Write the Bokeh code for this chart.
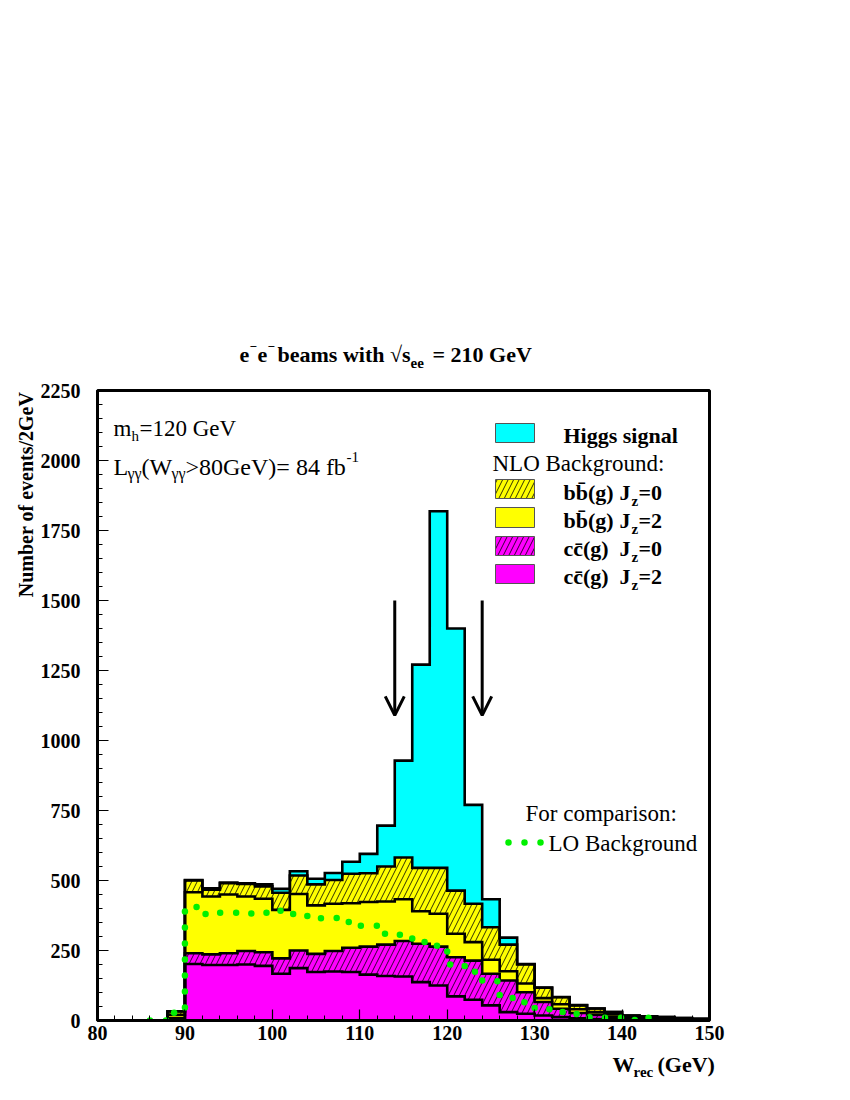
import numpy as np
from bokeh.plotting import figure
from bokeh.layouts import column, row
from bokeh.models import Range1d, SingleIntervalTicker, Label, Arrow, OpenHead
from bokeh.embed import file_html
from bokeh.resources import INLINE

# ---------------- data (events / 2 GeV) ----------------
bin_lo = [88, 90, 92, 94, 96, 98, 100, 102, 104, 106, 108, 110, 112, 114, 116, 118,
          120, 122, 124, 126, 128, 130, 132, 134, 136, 138, 140, 142, 144, 146, 148]
bin_width = 2
cc_jz2 = [4, 202, 198, 198, 200, 195, 167, 187, 173, 175, 173, 164, 159, 157, 137, 125,
          86, 74, 54, 30, 24, 18, 12, 8, 5, 4, 3, 2, 1, 1, 1]
cc_jz0 = [4, 38, 38, 42, 48, 49, 55, 63, 65, 73, 87, 100, 112, 127, 137, 139,
          140, 140, 113, 113, 77, 48, 30, 19, 15, 10, 5, 4, 3, 2, 1]
bb_jz2 = [12, 218, 207, 210, 195, 191, 173, 202, 173, 169, 159, 159, 154, 149, 116, 117,
          84, 66, 50, 33, 31, 14, 16, 13, 10, 9, 5, 5, 4, 3, 2]
bb_jz0 = [12, 42, 24, 40, 45, 44, 61, 66, 75, 85, 105, 103, 125, 149, 155, 164,
          154, 137, 116, 95, 68, 37, 25, 14, 13, 7, 5, 4, 4, 3, 2]
higgs = [1, 2, 5, 3, 2, 7, 14, 15, 20, 25, 43, 69, 146, 346, 726, 1274,
         936, 353, 100, 25, 2, 1, 1, 1, 0, 0, 0, 0, 0, 0, 0]

lo_bin_lo = [86, 88, 90, 92, 94, 96, 98, 100, 102, 104, 106, 108, 110, 112, 114,
             116, 118, 120, 122, 124, 126, 128, 130, 132, 134, 136, 138, 140, 142]
lo_bkg = [0, 28, 405, 380, 385, 382, 385, 392, 380, 365, 366, 352, 338, 310, 306,
          280, 267, 200, 174, 140, 80, 65, 40, 30, 23, 12, 10, 2, 10]

mass_window = [114, 124]
arrow_top, arrow_tip = 1500, 1090

x_ticks_major, x_minor = 10, 5
y_ticks_major, y_minor = 250, 5

# ---------------- page geometry (px) ----------------
PAGE_W = 850
TOP_H = 380            # title strip
YLAB_W = 37            # y-label strip
FL, FT, FW, FH = 97, 390, 612, 630   # frame position in the page
BOT_B = 30
MAIN_H = (FT - TOP_H) + FH + BOT_B
XLAB_H = 46
X0, X1, Y0, Y1 = 80, 150, 0, 2250
FONT = "Liberation Serif"


def label(fig, x, y, s, size, bold=False, align="left", angle=0.0, baseline="alphabetic"):
    fig.add_layout(Label(x=x, y=y, text=s, text_font=FONT,
                         text_font_size=f"{size}px", text_font_style="bold" if bold else "normal",
                         text_align=align, text_baseline=baseline, angle=angle, text_color="black"))


def strip(w, y_top, y_bot):
    f = figure(frame_width=w, frame_height=y_bot - y_top, x_range=Range1d(0, w),
               y_range=Range1d(y_bot, y_top), output_backend="svg", toolbar_location=None,
               title=None, x_axis_location=None, y_axis_location=None,
               min_border=0, min_border_left=0, min_border_right=0,
               min_border_top=0, min_border_bottom=0)
    f.grid.visible = False
    f.outline_line_color = None
    f.background_fill_color = "white"
    f.border_fill_color = "white"
    return f


# ---------------- main figure ----------------
p = figure(frame_width=FW, frame_height=FH, x_range=Range1d(X0, X1), y_range=Range1d(Y0, Y1),
           output_backend="svg", toolbar_location=None, title=None,
           min_border_left=FL - YLAB_W, min_border_right=PAGE_W - FL - FW,
           min_border_top=FT - TOP_H, min_border_bottom=BOT_B)
p.grid.visible = False
p.outline_line_color = "black"
p.outline_line_width = 3
p.background_fill_color = "white"
p.border_fill_color = "white"

p.xaxis.ticker = SingleIntervalTicker(interval=x_ticks_major, num_minor_ticks=x_minor)
p.yaxis.ticker = SingleIntervalTicker(interval=y_ticks_major, num_minor_ticks=y_minor)
for ax in (p.xaxis[0], p.yaxis[0]):
    ax.axis_line_color = "black"
    ax.axis_line_width = 3
    ax.major_tick_in = 11
    ax.major_tick_out = 0
    ax.minor_tick_in = 5
    ax.minor_tick_out = 0
    ax.major_tick_line_width = 1.2
    ax.minor_tick_line_width = 1
    ax.major_label_text_font = FONT
    ax.major_label_text_font_style = "bold"
    ax.major_label_text_font_size = "20px"
    ax.major_label_text_color = "black"
p.xaxis[0].major_label_standoff = 5
p.yaxis[0].major_label_standoff = 17


def px_x(px):
    return X0 + (px - FL) * (X1 - X0) / FW


def px_y(py):
    return Y1 - (py - FT) * (Y1 - Y0) / FH


def txt(x, y, s, size, bold=False):
    label(p, px_x(x), px_y(y), s, size, bold=bold)


# stacked histogram
edges = np.array(bin_lo + [bin_lo[-1] + bin_width], dtype=float)
layers = [np.array(v, dtype=float) for v in (cc_jz2, cc_jz0, bb_jz2, bb_jz0, higgs)]
cum = np.cumsum(np.vstack(layers), axis=0)
xs = np.repeat(edges, 2)[1:-1]

hatch = dict(hatch_pattern="/", hatch_color="black", hatch_weight=0.8, hatch_scale=11)
styles = [
    dict(fill_color="#ff00ff"),
    dict(fill_color="#ff00ff", **hatch),
    dict(fill_color="#ffff00"),
    dict(fill_color="#ffff00", **hatch),
    dict(fill_color="#00ffff"),
]
prev = np.zeros(len(bin_lo))
for k, st in enumerate(styles):
    top = np.repeat(cum[k], 2)
    bot = np.repeat(prev, 2)
    p.patch(np.concatenate([xs, xs[::-1]]), np.concatenate([top, bot[::-1]]),
            line_color=None, **st)
    prev = cum[k]

for k in range(len(styles) - 1, -1, -1):
    ox = np.concatenate([[edges[0]], xs, [edges[-1]]])
    oy = np.concatenate([[0], np.repeat(cum[k], 2), [0]])
    p.line(ox, oy, line_color="black", line_width=2.6, line_join="miter")

# LO background, dotted step
GREEN = "#00f000"
lo_edges = np.array(lo_bin_lo + [lo_bin_lo[-1] + bin_width], dtype=float)
lx = np.repeat(lo_edges, 2)[1:-1]
ly = np.repeat(np.array(lo_bkg, dtype=float), 2)
p.line(lx, ly, line_color=GREEN, line_width=6.5, line_dash="0 16", line_cap="round")

# mass-window arrows
for m in mass_window:
    p.add_layout(Arrow(x_start=m, y_start=arrow_top, x_end=m, y_end=arrow_tip,
                       line_width=3, line_color="black",
                       end=OpenHead(size=19, line_width=3, line_color="black")))

# legend
sw = [(423, 442, styles[4]), (479, 498, styles[3]), (507, 527, styles[2]),
      (536, 555, styles[1]), (564, 583, styles[0])]
for t, b, st in sw:
    p.quad(left=[px_x(495)], right=[px_x(534)], top=[px_y(t)], bottom=[px_y(b)],
           line_color="#555555", line_width=1, **st)

txt(563, 435, "Higgs signal", 22, bold=True)
txt(492, 463, "NLO Background:", 23)
rows = [(492, "bb\u0304(g)", "0"), (520, "bb\u0304(g)", "2"),
        (548, "cc\u0304(g)", "0"), (576, "cc\u0304(g)", "2")]
for yb, lab, jz in rows:
    txt(563, yb, lab, 22, bold=True)
    txt(619, yb, "J", 22, bold=True)
    txt(631, yb + 8, "z", 15, bold=True)
    txt(638, yb, "=" + jz, 22, bold=True)

txt(525, 813, "For comparison:", 23)
p.line([px_x(508), px_x(541)], [px_y(842), px_y(842)], line_color=GREEN, line_width=6.5,
       line_dash="0 16", line_cap="round")
txt(548, 843, "LO Background", 23)

txt(113, 428, "m", 23)
txt(131, 435, "h", 15)
txt(139, 428, "=120 GeV", 23)

txt(113, 466, "L", 24)
txt(127, 473, "\u03b3\u03b3", 16)
txt(141, 466, "(W", 24)
txt(171, 473, "\u03b3\u03b3", 16)
txt(185, 466, ">80GeV)= 84 fb", 24)
txt(346, 456, "-1", 15)

# ---------------- title strip ----------------
t_fig = strip(PAGE_W, 0, TOP_H)
label(t_fig, 239, 354, "e", 22, bold=True)
label(t_fig, 249, 346, "\u2212", 13, bold=True)
label(t_fig, 257, 354, "e", 22, bold=True)
label(t_fig, 267, 346, "\u2212", 13, bold=True)
label(t_fig, 277, 354, "beams with \u221as", 22, bold=True)
label(t_fig, 410, 362, "ee", 15, bold=True)
label(t_fig, 432, 354, "= 210 GeV", 22, bold=True)

# ---------------- y-label strip ----------------
y_fig = strip(YLAB_W, TOP_H, TOP_H + MAIN_H)
label(y_fig, 25, 484, "Number of events/2GeV", 20, bold=True, align="center",
      angle=np.pi / 2, baseline="middle")

# ---------------- x-label strip ----------------
xl_top = TOP_H + MAIN_H
x_fig = strip(PAGE_W, xl_top, xl_top + XLAB_H)
label(x_fig, 612, 1064, "W", 22, bold=True)
label(x_fig, 633, 1071, "rec", 15, bold=True)
label(x_fig, 657, 1064, "(GeV)", 22, bold=True)

layout = column(t_fig, row(y_fig, p), x_fig)
open("out.html", "w").write(file_html(layout, INLINE))
